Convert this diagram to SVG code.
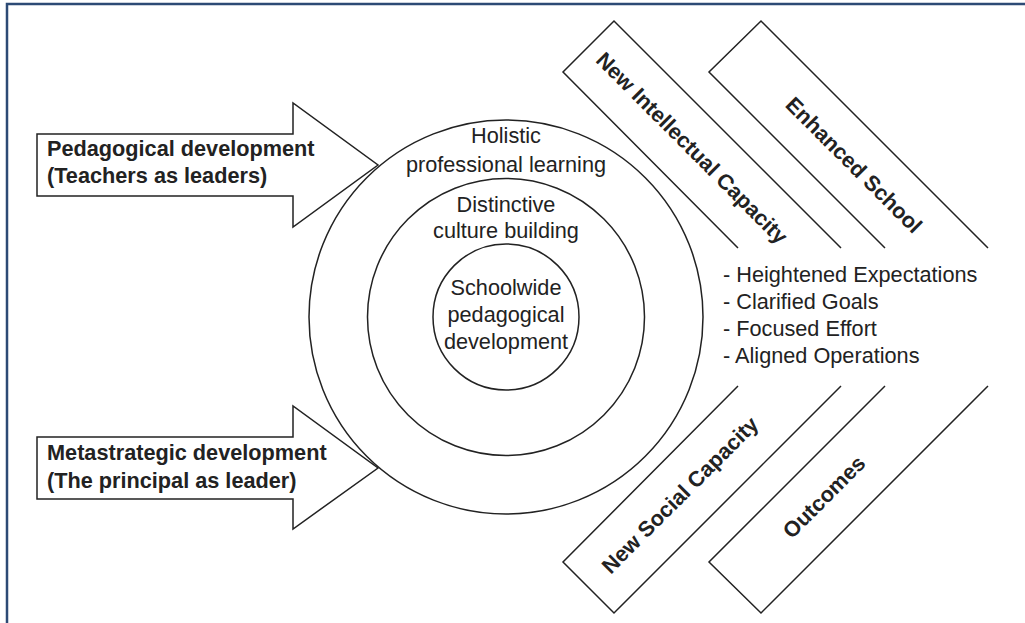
<svg xmlns="http://www.w3.org/2000/svg" width="1025" height="623" viewBox="0 0 1025 623">
<style>
.ln{fill:none;stroke:#222;stroke-width:1.5;stroke-linejoin:miter}
.ar{fill:#fff;stroke:#222;stroke-width:1.5}
.t{font-family:"Liberation Sans",Arial,Helvetica,sans-serif;font-size:21.7px;fill:#222}
.b{font-weight:bold}
.m{text-anchor:middle}
</style>
<rect width="1025" height="623" fill="#fff"/>
<path d="M7,630 V4 H1030" fill="none" stroke="#2d4a75" stroke-width="2.5"/>
<g id="arrow-pedagogical">
<polygon class="ar" points="37,134 293,134 293,103 378,165 293,227 293,196 37,196"/>
<text class="t b" x="47" y="156">Pedagogical development</text>
<text class="t b" x="47" y="183">(Teachers as leaders)</text>
</g>
<g id="arrow-metastrategic">
<polygon class="ar" points="37,437 293,437 293,406 378,468 293,529 293,499 37,499"/>
<text class="t b" x="47" y="460">Metastrategic development</text>
<text class="t b" x="47" y="488">(The principal as leader)</text>
</g>
<g id="circle-holistic">
<circle class="ln" cx="506" cy="317" r="197"/>
<text class="t m" x="506" y="143">Holistic</text>
<text class="t m" x="506" y="172">professional learning</text>
</g>
<g id="circle-culture">
<circle class="ln" cx="506" cy="317" r="138.5"/>
<text class="t m" x="506" y="212">Distinctive</text>
<text class="t m" x="506" y="238">culture building</text>
</g>
<g id="circle-schoolwide">
<circle class="ln" cx="506" cy="317" r="73"/>
<text class="t m" x="506" y="295">Schoolwide</text>
<text class="t m" x="506" y="322">pedagogical</text>
<text class="t m" x="506" y="349">development</text>
</g>
<g id="band-intellectual">
<polyline class="ln" points="738,248 563,72 614,21 841,248"/>
<text class="t b m" transform="translate(692,148) rotate(45)" x="0" y="7.5">New Intellectual Capacity</text>
</g>
<g id="band-enhanced">
<polyline class="ln" points="885,248 709,72 761,21 988,248"/>
<text class="t b m" transform="translate(854,165) rotate(45)" x="0" y="7.5">Enhanced School</text>
</g>
<g id="band-social">
<polyline class="ln" points="738,386 563,562 614,613 841,386"/>
<text class="t b m" transform="translate(680,495) rotate(-45)" x="0" y="7.5">New Social Capacity</text>
</g>
<g id="band-outcomes">
<polyline class="ln" points="885,386 709,562 761,613 988,386"/>
<text class="t b m" transform="translate(824,497) rotate(-45)" x="0" y="7.5">Outcomes</text>
</g>
<g id="list">
<text class="t" x="723" y="282">- Heightened Expectations</text>
<text class="t" x="723" y="309">- Clarified Goals</text>
<text class="t" x="723" y="336">- Focused Effort</text>
<text class="t" x="723" y="363">- Aligned Operations</text>
</g>
<g id="connectors"></g>
</svg>
